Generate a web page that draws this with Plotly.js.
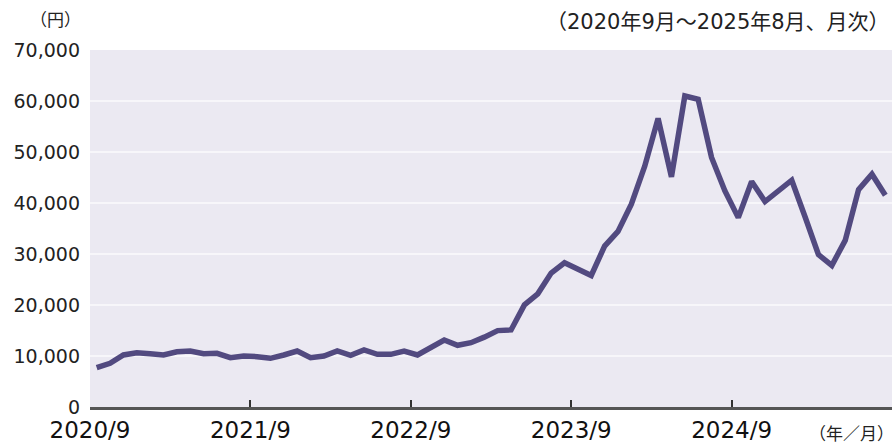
<!DOCTYPE html>
<html>
<head>
<meta charset="utf-8">
<script src="https://cdn.plot.ly/plotly-3.0.1.min.js"></script>
<style>html,body{margin:0;padding:0;background:#fff;}#chart{width:894px;height:444px;}</style>
</head>
<body>
<div id="chart"></div>
<script>
// Monthly values, 2020/9 to 2025/8 (yen)
const months = [];
for (let y = 2020, m = 9, k = 0; k < 60; k++) {
  months.push(y + "/" + m);
  m++; if (m > 12) { m = 1; y++; }
}
const values = [
  7700, 8570, 10200, 10650, 10450, 10200, 10840, 10980, 10450, 10530,
  9670, 10000, 9870, 9550, 10200, 10980, 9670, 10000, 10980, 10140,
  11180, 10330, 10330, 10980, 10200, 11630, 13140, 12100, 12610, 13700,
  14980, 15110, 20030, 22190, 26250, 28280, 27100, 25790, 31560, 34440,
  39750, 47220, 56590, 45120, 60980, 60330, 48930, 42370, 37130, 44210,
  40280, 42370, 44470, 37260, 29860, 27760, 32670, 42630, 45650, 41520
];
const tickLabels = ["2020/9", "2021/9", "2022/9", "2023/9", "2024/9"];
const tickPositions = [-0.5, 11.5, 23.5, 35.5, 47.5];
const yTicks = [0, 10000, 20000, 30000, 40000, 50000, 60000, 70000];
const yTickText = ["0", "10,000", "20,000", "30,000", "40,000", "50,000", "60,000", "70,000"];

const idx = values.map((v, i) => i);
const font = "'DejaVu Sans', 'Noto Sans CJK JP', sans-serif";

Plotly.newPlot("chart", [{
  x: idx, y: values, text: months, type: "scatter", mode: "lines",
  line: {color: "#524A80", width: 5.5, shape: "linear"},
  hoverinfo: "text+y"
}], {
  width: 894, height: 444,
  margin: {l: 90, r: 2, t: 50, b: 37},
  paper_bgcolor: "#ffffff",
  plot_bgcolor: "#EBE9F2",
  showlegend: false,
  font: {family: font, color: "#222"},
  xaxis: {
    range: [-0.5, 59.5], tickmode: "array", tickvals: tickPositions, ticktext: tickLabels,
    ticks: "inside", ticklen: 7, tickwidth: 1.5, tickcolor: "#333",
    showgrid: false, zeroline: false,
    showline: true, linecolor: "#555", linewidth: 3,
    tickfont: {size: 23, color: "#111", family: font}, fixedrange: true
  },
  yaxis: {
    range: [0, 70000], tickmode: "array", tickvals: yTicks, ticktext: yTickText,
    showgrid: true, gridcolor: "#F7F6FA", gridwidth: 2,
    zeroline: false, showline: false, ticks: "", ticklabelstandoff: 9,
    tickfont: {size: 19, color: "#222", family: font}, fixedrange: true
  },
  annotations: [
    {text: "（円）", xref: "paper", yref: "paper", x: -0.0436, y: 1.084, xanchor: "center", yanchor: "middle",
     showarrow: false, font: {size: 17, color: "#222", family: font}},
    {text: "（2020年9月～2025年8月、月次）", xref: "paper", yref: "paper", x: 1.0, y: 1.078, xanchor: "right", yanchor: "middle",
     showarrow: false, font: {size: 21, color: "#222", family: font}},
    {text: "（年／月）", xref: "paper", yref: "paper", x: 0.949, y: -0.0756, xanchor: "center", yanchor: "middle",
     showarrow: false, font: {size: 17, color: "#222", family: font}}
  ]
}, {displayModeBar: false});
</script>
</body>
</html>
